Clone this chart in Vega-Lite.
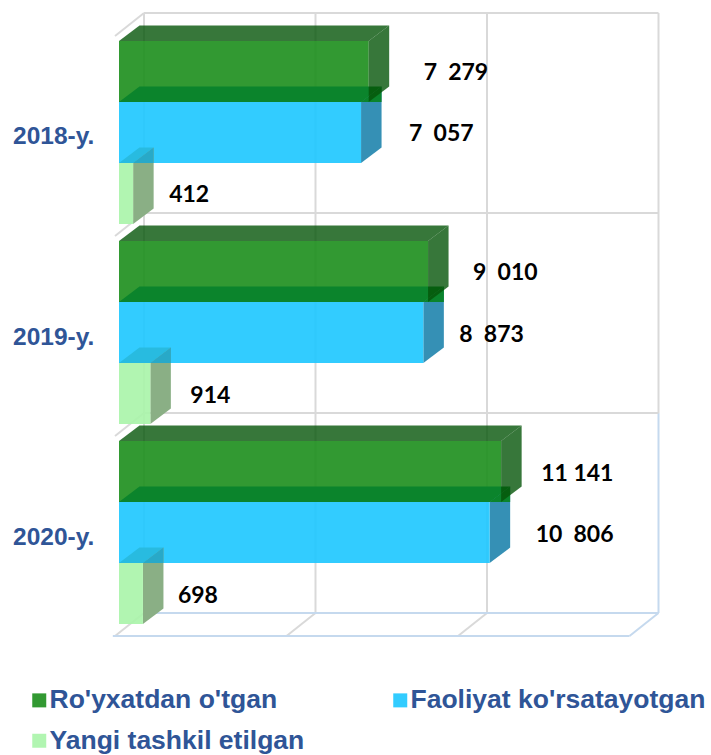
{
"$schema":"https://vega.github.io/schema/vega-lite/v6.json",
"width":711,"height":755,"padding":0,"autosize":{"type":"none"},
"background":"white",
"config":{"view":{"stroke":null},"axis":{"disable":true}},
"datasets":{
"bars":[
{"year":"2018-y.","series":"Ro'yxatdan o'tgan","value":7279,"label":"7  279"},
{"year":"2018-y.","series":"Faoliyat ko'rsatayotgan","value":7057,"label":"7  057"},
{"year":"2018-y.","series":"Yangi tashkil etilgan","value":412,"label":"412"},
{"year":"2019-y.","series":"Ro'yxatdan o'tgan","value":9010,"label":"9  010"},
{"year":"2019-y.","series":"Faoliyat ko'rsatayotgan","value":8873,"label":"8  873"},
{"year":"2019-y.","series":"Yangi tashkil etilgan","value":914,"label":"914"},
{"year":"2020-y.","series":"Ro'yxatdan o'tgan","value":11141,"label":"11 141"},
{"year":"2020-y.","series":"Faoliyat ko'rsatayotgan","value":10806,"label":"10  806"},
{"year":"2020-y.","series":"Yangi tashkil etilgan","value":698,"label":"698"}
],
"ticks":[{"tick":0},{"tick":5000},{"tick":10000},{"tick":15000}],
"levels":[{"level":0},{"level":1},{"level":2},{"level":3}]
},
"layer":[
{"data":{"name":"ticks"},
 "transform":[{"calculate":"datum.tick+729","as":"backX"},{"calculate":"datum.backX-845","as":"frontX"},
 {"calculate":"-0.459","as":"wallTop"},{"calculate":"6.098","as":"wallMid"},{"calculate":"9.377","as":"floorBack"},{"calculate":"9.754","as":"floorFront"}],
 "layer":[
 {"transform":[{"filter":"datum.tick<15000"}],"mark":{"type":"rule","color":"#D9D9D9","strokeWidth":2},
  "encoding":{"x":{"field":"backX","type":"quantitative","scale":{"domain":[-3469.4,17259.5],"nice":false,"zero":false}},
  "y":{"field":"wallTop","type":"quantitative","scale":{"domain":[-0.6721,11.7049],"nice":false,"zero":false,"reverse":true}},"y2":{"field":"floorBack"}}},
 {"transform":[{"filter":"datum.tick==15000"}],"mark":{"type":"rule","color":"#D9D9D9","strokeWidth":2},
  "encoding":{"x":{"field":"backX","type":"quantitative"},"y":{"field":"wallTop","type":"quantitative"},"y2":{"field":"wallMid"}}},
 {"transform":[{"filter":"datum.tick==15000"}],"mark":{"type":"rule","color":"#C5D9EE","strokeWidth":2},
  "encoding":{"x":{"field":"backX","type":"quantitative"},"y":{"field":"wallMid","type":"quantitative"},"y2":{"field":"floorBack"}}},
 {"transform":[{"filter":"datum.tick<15000"}],"mark":{"type":"rule","color":"#D9D9D9","strokeWidth":2},
  "encoding":{"x":{"field":"backX","type":"quantitative"},"x2":{"field":"frontX"},"y":{"field":"floorBack","type":"quantitative"},"y2":{"field":"floorFront"}}},
 {"transform":[{"filter":"datum.tick==15000"}],"mark":{"type":"rule","color":"#C5D9EE","strokeWidth":2},
  "encoding":{"x":{"field":"backX","type":"quantitative"},"x2":{"field":"frontX"},"y":{"field":"floorBack","type":"quantitative"},"y2":{"field":"floorFront"}}}
 ]},
{"data":{"name":"levels"},
 "transform":[{"calculate":"-0.459+3.2787*datum.level","as":"backY"},{"calculate":"datum.backY+0.377","as":"frontY"},
 {"calculate":"729","as":"wallL"},{"calculate":"15729","as":"wallR"},{"calculate":"-116","as":"sideL"},{"calculate":"-180","as":"floorL"},{"calculate":"14884","as":"floorR"}],
 "layer":[
 {"transform":[{"filter":"datum.level<3"}],"mark":{"type":"rule","strokeWidth":2,"color":"#D9D9D9"},
  "encoding":{"x":{"field":"wallL","type":"quantitative"},"x2":{"field":"wallR"},"y":{"field":"backY","type":"quantitative"}}},
 {"transform":[{"filter":"datum.level==3"}],"mark":{"type":"rule","strokeWidth":2,"color":"#C5D9EE"},
  "encoding":{"x":{"field":"wallL","type":"quantitative"},"x2":{"field":"wallR"},"y":{"field":"backY","type":"quantitative"}}},
 {"transform":[{"filter":"datum.level<3"}],"mark":{"type":"rule","color":"#D9D9D9","strokeWidth":2},
  "encoding":{"x":{"field":"wallL","type":"quantitative"},"x2":{"field":"sideL"},"y":{"field":"backY","type":"quantitative"},"y2":{"field":"frontY"}}},
 {"transform":[{"filter":"datum.level==3"}],"mark":{"type":"rule","color":"#C5D9EE","strokeWidth":2},
  "encoding":{"x":{"field":"floorL","type":"quantitative"},"x2":{"field":"floorR"},"y":{"field":"frontY","type":"quantitative"}}}
 ]},
{"data":{"name":"bars"},
 "transform":[
 {"calculate":"indexof(['2018-y.','2019-y.','2020-y.'],datum.year)","as":"i"},
 {"calculate":"indexof(['Ro\\'yxatdan o\\'tgan','Faoliyat ko\\'rsatayotgan','Yangi tashkil etilgan'],datum.series)","as":"j"},
 {"calculate":"datum.i*3.2787+datum.j","as":"b0"},
 {"calculate":"datum.b0+1","as":"b1"},
 {"calculate":"datum.b0+0.5","as":"bm"},
 {"calculate":"0","as":"zero"},
 {"calculate":"-3090","as":"yearX"},
 {"calculate":"replace(datum.label,/  /,'\u00a0\u00a0')","as":"shown"},
 {"calculate":"[0,1]","as":"d"},
 {"flatten":["d"]},
 {"calculate":"datum.value+datum.d*598","as":"sideX"},
 {"calculate":"datum.d*598","as":"topL"},
 {"calculate":"datum.b0-datum.d*0.254","as":"sideTop"},
 {"calculate":"datum.b1-datum.d*0.254","as":"sideBot"},
 {"calculate":"{'7  279':55,'7  057':48,'412':36,'9  010':45,'8  873':36,'914':40,'11 141':40,'10  806':46,'698':35}[datum.label]/0.0343+datum.value","as":"labelX"}
 ],
 "layer":[
 {"transform":[{"filter":"datum.j==0 && datum.d==0"}],"mark":{"type":"rect","opacity":0.9},
  "encoding":{"x":{"field":"zero","type":"quantitative"},"x2":{"field":"value"},"y":{"field":"b0","type":"quantitative"},"y2":{"field":"b1"},
  "color":{"field":"series","type":"nominal","sort":null,
   "scale":{"domain":["Ro'yxatdan o'tgan","Faoliyat ko'rsatayotgan","Yangi tashkil etilgan"],"range":["#1C8E1C","#1CC6FF","#A9F4A9"]},
   "legend":{"title":null,"orient":"none","legendX":26,"legendY":687,"columns":2,"direction":"horizontal","gridAlign":"each","symbolType":"square","symbolSize":196,"symbolOpacity":0.9,"symbolStrokeWidth":0,"labelFont":"Liberation Sans","labelFontWeight":"bold","labelFontSize":26.5,"labelColor":"#2F5597","labelLimit":400,"labelOffset":-3,"columnPadding":82,"rowPadding":13.5}}}},
 {"transform":[{"filter":"datum.j==1"}],"mark":{"type":"area","orient":"vertical","color":"#3590B5"},
  "encoding":{"x":{"field":"sideX","type":"quantitative"},"y":{"field":"sideTop","type":"quantitative"},"y2":{"field":"sideBot"},"detail":{"field":"year","type":"nominal"}}},
 {"transform":[{"filter":"datum.j==1"}],"mark":{"type":"area","orient":"horizontal","color":"#0B842C"},
  "encoding":{"y":{"field":"sideTop","type":"quantitative"},"x":{"field":"topL","type":"quantitative"},"x2":{"field":"sideX"},"detail":{"field":"year","type":"nominal"}}},
 {"transform":[{"filter":"datum.j==1"}],"mark":{"type":"area","orient":"vertical","color":"#0B842C"},
  "encoding":{"x":{"field":"sideX","type":"quantitative"},"y":{"field":"sideTop","type":"quantitative"},"y2":{"field":"b0"},"detail":{"field":"year","type":"nominal"}}},
 {"transform":[{"filter":"datum.j==0"}],"mark":{"type":"area","orient":"vertical","color":"#055509","opacity":0.8},
  "encoding":{"x":{"field":"sideX","type":"quantitative"},"y":{"field":"sideTop","type":"quantitative"},"y2":{"field":"sideBot"},"detail":{"field":"year","type":"nominal"}}},
 {"transform":[{"filter":"datum.j==0"}],"mark":{"type":"area","orient":"horizontal","color":"#055509","opacity":0.8},
  "encoding":{"y":{"field":"sideTop","type":"quantitative"},"x":{"field":"topL","type":"quantitative"},"x2":{"field":"sideX"},"detail":{"field":"year","type":"nominal"}}},
 {"transform":[{"filter":"datum.j==1 && datum.d==0"}],"mark":{"type":"rect","opacity":0.9},
  "encoding":{"x":{"field":"zero","type":"quantitative"},"x2":{"field":"value"},"y":{"field":"b0","type":"quantitative"},"y2":{"field":"b1"},"color":{"field":"series","type":"nominal"}}},
 {"transform":[{"filter":"datum.j==2"}],"mark":{"type":"area","orient":"vertical","color":"#8AAF85"},
  "encoding":{"x":{"field":"sideX","type":"quantitative"},"y":{"field":"sideTop","type":"quantitative"},"y2":{"field":"sideBot"},"detail":{"field":"year","type":"nominal"}}},
 {"transform":[{"filter":"datum.j==2"}],"mark":{"type":"area","orient":"horizontal","color":"#28BBE0"},
  "encoding":{"y":{"field":"sideTop","type":"quantitative"},"x":{"field":"topL","type":"quantitative"},"x2":{"field":"sideX"},"detail":{"field":"year","type":"nominal"}}},
 {"transform":[{"filter":"datum.j==2"}],"mark":{"type":"area","orient":"vertical","color":"#28A9C8"},
  "encoding":{"x":{"field":"sideX","type":"quantitative"},"y":{"field":"sideTop","type":"quantitative"},"y2":{"field":"b0"},"detail":{"field":"year","type":"nominal"}}},
 {"transform":[{"filter":"datum.j==2 && datum.d==0"}],"mark":{"type":"rect","opacity":0.9},
  "encoding":{"x":{"field":"zero","type":"quantitative"},"x2":{"field":"value"},"y":{"field":"b0","type":"quantitative"},"y2":{"field":"b1"},"color":{"field":"series","type":"nominal"}}},
 {"transform":[{"filter":"datum.d==0"}],"mark":{"type":"text","align":"left","baseline":"middle","font":"Lato","fontWeight":"bold","fontSize":23,"color":"#000000","dy":2},
  "encoding":{"x":{"field":"labelX","type":"quantitative"},"y":{"field":"bm","type":"quantitative"},"text":{"field":"shown"}}},
 {"transform":[{"filter":"datum.j==1 && datum.d==0"}],"mark":{"type":"text","align":"left","baseline":"middle","font":"Liberation Sans","fontWeight":"bold","fontSize":24.5,"color":"#2F5597","dy":5},
  "encoding":{"x":{"field":"yearX","type":"quantitative"},"y":{"field":"bm","type":"quantitative"},"text":{"field":"year"}}}
 ]}
]
}
